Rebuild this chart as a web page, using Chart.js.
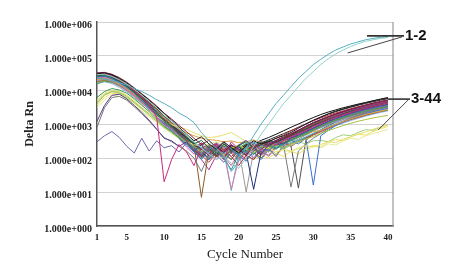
<!DOCTYPE html>
<html><head><meta charset="utf-8">
<script src="https://cdn.jsdelivr.net/npm/chart.js@4"></script>
<style>html,body{margin:0;padding:0;background:#fff;}canvas{display:block;}</style>
</head><body>
<canvas id="c" width="461" height="265"></canvas>
<script>
const cycles = [1,2,3,4,5,6,7,8,9,10,11,12,13,14,15,16,17,18,19,20,21,22,23,24,25,26,27,28,29,30,31,32,33,34,35,36,37,38,39,40];
const xTickValues = [1,5,10,15,20,25,30,35,40];
const yTickValues = [1,10,100,1000,10000,100000,1000000];
const yTickLabels = ['1.000e+000','1.000e+001','1.000e+002','1.000e+003','1.000e+004','1.000e+005','1.000e+006'];

// wells 1-2
const s01 = [2.2e4,2.1e4,1.9e4,1.65e4,1.4e4,1.1e4,9e3,7e3,5.2e3,4e3, 3e3,2.1e3,1.6e3,1.1e3,560,320,200,110,40,80, 200,450,1e3,2e3,4e3,7e3,1.25e4,2.2e4,3.5e4,5.6e4, 8e4,1.12e5,1.5e5,1.85e5,2.25e5,2.6e5,3e5,3.3e5,3.55e5,3.7e5];
const s02 = [2.8e4,2.9e4,2.5e4,2e4,1.5e4,1.05e4,7e3,4.6e3,3e3,1.9e3, 1.2e3,750,480,300,200,130,90,110,70,50, 100,220,500,1e3,2e3,4e3,7e3,1.25e4,2.2e4,3.5e4, 5.6e4,8.3e4,1.15e5,1.5e5,1.9e5,2.3e5,2.7e5,3e5,3.3e5,3.5e5];
// wells 3-44
const s03 = [3e4,3.2e4,2.8e4,2.2e4,1.6e4,1.1e4,7.5e3,5e3,3.2e3,2e3, 1.3e3,800,500,320,420,260,180,300,200,140, 230,320,260,300,380,450,560,750,1e3,1.3e3, 1.6e3,2e3,2.4e3,2.8e3,3.2e3,3.7e3,4.2e3,4.8e3,5.4e3,6e3];
const s04 = [3.2e4,3.3e4,2.9e4,2.3e4,1.7e4,1.15e4,7.8e3,5.2e3,3.4e3,2.1e3, 1.4e3,900,600,380,250,330,210,150,240,180, 120,210,280,230,300,380,480,620,820,1.05e3, 1.3e3,1.6e3,1.95e3,2.3e3,2.7e3,3.1e3,3.6e3,4.1e3,4.6e3,5.1e3];
const s05 = [2.9e4,3e4,2.6e4,2e4,1.45e4,9.5e3,6e3,3.5e3,1.6e3,20, 90,250,150,60,200,120,260,90,300,180, 120,250,170,300,240,330,420,520,650,850, 1.05e3,1.3e3,1.6e3,1.9e3,2.2e3,2.6e3,3e3,3.4e3,3.8e3,4.2e3];
const s06 = [2.6e4,2.8e4,2.4e4,1.8e4,1.3e4,8.5e3,5.5e3,3.5e3,2.2e3,1.3e3, 900,550,380,260,330,200,120,260,170,230, 300,190,250,330,280,360,450,560,700,900, 1.1e3,1.35e3,1.65e3,2e3,2.35e3,2.7e3,3.1e3,3.5e3,3.9e3,4.3e3];
const s07 = [1.2e3,3.5e3,7e3,7.5e3,5.5e3,3.5e3,2.2e3,1.3e3,700,380, 320,220,300,160,250,110,180,300,150,240, 330,200,130,250,320,260,380,480,600,760, 950,1.2e3,1.45e3,1.75e3,2.05e3,2.4e3,2.75e3,3.1e3,3.45e3,3.8e3];
const s08 = [300,450,600,400,220,140,380,160,320,200, 230,150,280,190,120,230,160,260,190,140, 220,300,190,160,260,320,400,480,600,780, 980,1.2e3,1.45e3,1.7e3,2e3,2.3e3,2.6e3,2.9e3,3.2e3,3.5e3];
const s09 = [2.5e4,2.7e4,2.3e4,1.75e4,1.25e4,8e3,5e3,3.2e3,2e3,1.2e3, 800,480,300,200,130,220,150,100,45,130, 200,130,190,260,190,280,340,430,560,740, 940,1.15e3,1.4e3,1.65e3,1.95e3,2.25e3,2.6e3,2.95e3,3.3e3,3.7e3];
const s10 = [6e3,9e3,1.1e4,1e4,8e3,5.5e3,3.6e3,2.3e3,1.4e3,850, 600,400,260,170,240,130,200,95,170,230, 150,220,290,230,180,260,320,400,500,660, 840,1.05e3,1.3e3,1.55e3,1.8e3,2.1e3,2.4e3,2.7e3,3e3,3.3e3];
const s11 = [4e3,7e3,9e3,8.5e3,6.5e3,4.5e3,3e3,2e3,1.3e3,850, 600,420,300,220,160,240,170,120,190,240, 180,140,220,190,250,200,260,300,360,430, 530,640,760,900,1.05e3,1.2e3,1.35e3,1.5e3,1.65e3,1.8e3];
const s12 = [5e3,8e3,9.5e3,9e3,7e3,5e3,3.5e3,2.4e3,1.7e3,1.2e3, 950,800,700,550,450,400,420,480,560,420, 300,220,180,200,150,180,160,200,230,210, 250,300,280,360,420,500,580,700,820,950];
const s13 = [2e4,2.2e4,1.9e4,1.5e4,1.1e4,7.5e3,5e3,3.3e3,2.2e3,1.5e3, 1e3,700,550,450,380,350,330,300,320,280, 300,340,280,220,260,300,360,420,500,600, 640,800,980,1.18e3,1.4e3,1.65e3,1.9e3,2.15e3,2.4e3,2.7e3];
const s14 = [800,3e3,6e3,6.5e3,5e3,3.2e3,2e3,1.2e3,700,400, 300,220,160,100,40,130,200,120,170,100, 150,220,140,190,110,250,14,160,260,380, 520,720,950,1.2e3,1.5e3,1.8e3,2.15e3,2.5e3,2.85e3,3.2e3];
const s15 = [2.4e4,2.6e4,2.2e4,1.65e4,1.15e4,7.5e3,4.8e3,3e3,1.8e3,1e3, 650,380,240,150,90,170,240,140,200,120, 80,160,240,170,280,230,340,260,380,16, 450,650,900,1.15e3,1.4e3,1.7e3,2e3,2.3e3,2.6e3,2.9e3];
const s16 = [2.7e4,2.9e4,2.5e4,1.9e4,1.35e4,9e3,5.8e3,3.7e3,2.3e3,1.4e3, 900,550,340,200,120,200,260,170,110,60, 120,200,250,300,380,480,620,800,1e3,1.25e3, 1.5e3,1.8e3,2.1e3,2.45e3,2.8e3,3.2e3,3.6e3,4e3,4.5e3,5e3];
const s17 = [2.3e4,2.4e4,2e4,1.5e4,1.05e4,7e3,4.5e3,2.8e3,1.7e3,1e3, 700,420,270,160,250,140,90,180,12,90, 110,170,240,180,280,330,420,520,640,780, 940,1.15e3,1.35e3,1.6e3,1.85e3,2.1e3,2.4e3,2.7e3,3e3,3.3e3];
const s18 = [2.8e4,3e4,2.6e4,2e4,1.45e4,9.8e3,6.5e3,4.2e3,2.7e3,1.7e3, 1.1e3,700,420,250,7,170,110,140,210,150, 230,180,130,220,300,380,480,600,760,960, 1.2e3,1.45e3,1.7e3,2e3,2.3e3,2.65e3,3e3,3.35e3,3.7e3,4.1e3];
const s19 = [2.1e4,2.3e4,2e4,1.6e4,1.2e4,8e3,5.5e3,3.7e3,2.5e3,1.6e3, 1.1e3,700,460,300,200,130,220,150,11,130, 200,280,220,160,240,190,270,330,420,540, 670,840,1.03e3,1.23e3,1.45e3,1.7e3,1.95e3,2.2e3,2.45e3,2.7e3];
const s20 = [1.9e4,2.1e4,1.8e4,1.4e4,1e4,6.8e3,4.4e3,2.8e3,1.75e3,1.05e3, 700,450,300,200,130,210,280,190,250,170, 120,210,170,110,200,260,330,420,520,640, 780,960,1.15e3,1.35e3,1.55e3,1.8e3,2.05e3,2.3e3,2.55e3,2.8e3];
const s21 = [4.5e3,7.5e3,9e3,8e3,6e3,4.2e3,2.8e3,1.8e3,1.2e3,780, 550,380,260,190,150,210,150,240,180,140, 190,250,190,150,220,180,240,300,260,320, 330,300,400,480,450,560,680,650,800,950];
const s22 = [3e3,5e3,7e3,6.5e3,5e3,3.5e3,2.4e3,1.6e3,1.1e3,750, 520,380,300,250,220,260,300,240,200,230, 180,150,190,160,130,170,150,190,170,220, 200,260,240,320,380,350,450,520,600,700];
const s23 = [2.9e4,3.1e4,2.7e4,2.1e4,1.5e4,1e4,6.8e3,4.4e3,2.8e3,1.7e3, 1.1e3,680,420,270,180,120,210,150,230,170, 250,200,280,340,420,520,640,800,1e3,1.25e3, 1.6e3,1.95e3,2.3e3,2.7e3,3.1e3,3.55e3,4e3,4.5e3,5e3,5.6e3];
const s24 = [2.4e4,2.6e4,2.3e4,1.75e4,1.25e4,8.2e3,5.3e3,3.4e3,2.1e3,1.25e3, 820,500,300,180,270,170,110,180,240,170, 120,90,170,230,290,350,430,540,680,850, 1.05e3,1.3e3,1.55e3,1.85e3,2.15e3,2.5e3,2.85e3,3.25e3,3.65e3,4.1e3];
const s25 = [2.7e4,2.9e4,2.5e4,1.95e4,1.4e4,9.5e3,6.2e3,4e3,2.5e3,1.5e3, 1e3,620,400,250,150,240,170,110,170,230, 160,230,300,250,330,400,500,650,850,1.1e3, 1.35e3,1.65e3,2e3,2.35e3,2.75e3,3.15e3,3.6e3,4.05e3,4.5e3,5e3];
const s26 = [2.2e4,2.4e4,2.1e4,1.6e4,1.15e4,7.6e3,4.9e3,3.1e3,1.9e3,1.1e3, 720,430,270,170,100,160,210,140,90,170, 230,160,210,280,210,290,360,450,580,740, 930,1.15e3,1.4e3,1.65e3,1.95e3,2.25e3,2.6e3,2.95e3,3.3e3,3.7e3];
const s27 = [2.5e4,2.7e4,2.35e4,1.8e4,1.3e4,8.6e3,5.6e3,3.6e3,2.3e3,1.4e3, 950,600,380,250,160,90,150,230,150,210, 140,12,150,220,230,300,390,520,700,900, 1.12e3,1.38e3,1.65e3,1.95e3,2.3e3,2.65e3,3e3,3.4e3,3.8e3,4.2e3];
const s28 = [2e4,2.2e4,1.9e4,1.45e4,1.05e4,7e3,4.6e3,2.9e3,1.8e3,1.1e3, 750,470,300,190,120,75,140,200,140,90, 150,230,150,120,210,280,220,300,380,480, 600,760,940,1.14e3,1.36e3,1.6e3,1.85e3,2.1e3,2.4e3,2.7e3];
const s29 = [2.3e4,2.5e4,2.15e4,1.6e4,1.15e4,7.5e3,4.8e3,3e3,1.85e3,1.1e3, 740,460,300,180,250,170,230,150,90,190, 10,160,240,190,130,220,290,360,470,610, 780,970,1.18e3,1.4e3,1.65e3,1.9e3,2.2e3,2.5e3,2.8e3,3.1e3];
const s30 = [1.7e4,1.9e4,1.7e4,1.35e4,1e4,7e3,4.8e3,3.2e3,2.1e3,1.35e3, 950,620,400,270,180,120,180,260,180,130, 210,150,100,180,250,190,260,330,400,500, 630,790,960,1.15e3,1.35e3,1.55e3,1.8e3,2.05e3,2.3e3,2.55e3];
const s31 = [2.6e4,2.75e4,2.4e4,1.85e4,1.3e4,8.8e3,5.7e3,3.7e3,2.3e3,1.4e3, 920,560,350,220,130,210,140,90,140,200, 270,200,140,210,280,340,420,540,690,890, 1.1e3,1.35e3,1.6e3,1.9e3,2.2e3,2.55e3,2.9e3,3.3e3,3.7e3,4.1e3];
const s32 = [2.8e4,3e4,2.6e4,2e4,1.45e4,9.6e3,6.2e3,3.9e3,2.4e3,1.4e3, 880,520,300,170,90,45,120,180,110,170, 240,180,120,200,270,340,440,580,750,970, 1.2e3,1.48e3,1.78e3,2.1e3,2.45e3,2.85e3,3.25e3,3.7e3,4.15e3,4.6e3];
const s33 = [2.1e4,2.25e4,1.95e4,1.5e4,1.05e4,7e3,4.5e3,2.8e3,1.7e3,1e3, 680,420,260,150,210,140,200,260,170,120, 180,140,90,170,120,200,270,330,400,500, 630,790,970,1.17e3,1.39e3,1.63e3,1.88e3,2.15e3,2.43e3,2.72e3];
const s34 = [2.5e4,2.65e4,2.3e4,1.75e4,1.25e4,8.3e3,5.4e3,3.4e3,2.1e3,1.25e3, 830,510,320,200,120,180,120,180,240,170, 230,170,240,310,240,330,230,13,330,500, 680,900,1.13e3,1.38e3,1.65e3,1.95e3,2.25e3,2.6e3,2.95e3,3.3e3];
const s35 = [1.5e4,1.8e4,1.7e4,1.4e4,1.05e4,7.2e3,4.8e3,3.1e3,2e3,1.25e3, 880,570,370,240,160,100,160,230,170,240, 180,130,200,270,210,280,340,420,530,670, 840,1.03e3,1.24e3,1.47e3,1.72e3,1.98e3,2.25e3,2.55e3,2.85e3,3.15e3];
const s36 = [2.6e4,2.8e4,2.45e4,1.9e4,1.35e4,9e3,5.8e3,3.7e3,2.3e3,1.35e3, 880,530,320,200,280,190,120,75,150,220, 160,100,180,250,300,370,470,620,820,1.05e3, 1.32e3,1.6e3,1.9e3,2.22e3,2.57e3,2.95e3,3.35e3,3.8e3,4.25e3,4.7e3];
const s37 = [3.5e3,6e3,8e3,7.5e3,5.8e3,4e3,2.7e3,1.8e3,1.2e3,800, 540,370,260,190,150,130,160,200,170,140, 110,90,120,100,140,110,160,130,190,240, 210,290,350,320,420,500,470,600,720,850];
const s38 = [1.8e4,2e4,1.75e4,1.35e4,9.8e3,6.6e3,4.3e3,2.8e3,1.8e3,1.1e3, 800,520,340,230,150,210,270,200,140,200, 250,180,240,300,250,320,380,460,570,720, 890,1.08e3,1.28e3,1.5e3,1.73e3,1.97e3,2.22e3,2.5e3,2.8e3,3.1e3];
const s39 = [2.75e4,2.95e4,2.6e4,2e4,1.45e4,9.7e3,6.3e3,4e3,2.5e3,1.5e3, 980,600,380,240,140,210,150,240,180,120, 200,260,330,400,500,630,800,1e3,1.25e3,1.55e3, 1.9e3,2.25e3,2.6e3,3e3,3.4e3,3.85e3,4.3e3,4.8e3,5.3e3,5.8e3];
const s40 = [2.45e4,2.6e4,2.25e4,1.7e4,1.2e4,7.9e3,5.1e3,3.2e3,2e3,1.2e3, 790,480,300,180,110,170,240,170,210,140, 90,150,210,270,330,420,520,660,860,1.09e3, 1.34e3,1.62e3,1.92e3,2.25e3,2.6e3,2.98e3,3.38e3,3.8e3,4.25e3,4.7e3];
const s41 = [1.6e4,1.75e4,1.55e4,1.2e4,8.8e3,6e3,4e3,2.6e3,1.65e3,1e3, 700,440,290,190,130,90,140,200,140,180, 240,180,120,180,250,200,260,320,400,480, 580,730,890,1.07e3,1.26e3,1.47e3,1.7e3,1.94e3,2.2e3,2.45e3];
const s42 = [2.35e4,2.5e4,2.2e4,1.7e4,1.2e4,8e3,5.2e3,3.3e3,2.05e3,1.25e3, 820,500,310,190,110,170,110,170,240,180, 140,210,280,220,300,360,450,580,750,960, 1.2e3,1.46e3,1.75e3,2.05e3,2.4e3,2.75e3,3.15e3,3.55e3,4e3,4.45e3];
const s43 = [2e4,2.15e4,1.85e4,1.4e4,1e4,6.6e3,4.2e3,2.6e3,1.55e3,900, 600,360,210,130,190,260,170,110,60,140, 190,260,190,150,220,290,360,440,560,710, 890,1.09e3,1.31e3,1.55e3,1.81e3,2.08e3,2.37e3,2.68e3,3e3,3.35e3];
const s44 = [1.8e4,1.95e4,1.7e4,1.3e4,9.5e3,6.4e3,4.2e3,2.7e3,1.7e3,1.05e3, 740,480,320,210,140,210,280,210,150,110, 170,240,180,250,320,260,330,410,520,650, 810,1e3,1.21e3,1.43e3,1.67e3,1.93e3,2.2e3,2.5e3,2.8e3,3.1e3];

const wellSeries = [s01,s02,s03,s04,s05,s06,s07,s08,s09,s10,s11,s12,s13,s14,s15,s16,s17,s18,s19,s20,s21,s22,s23,s24,s25,s26,s27,s28,s29,s30,s31,s32,s33,s34,s35,s36,s37,s38,s39,s40,s41,s42,s43,s44];
const wellColors = ['#55aebf','#8fd3c9','#1a1a1a','#7b1e3e','#c8287f','#1f5f3b','#5a3a8f','#6a6aaa','#2c8a8a','#3c9a4c','#a8c040','#e8e070','#e0a040','#7a7a7a','#3a6ed0','#b83040','#e07aaa','#8b5a2b','#4cb6d6','#9a88d0','#a0d080','#e6ec9a','#2a2a2a','#8e2a4a','#4a2a6a','#2b6e2b','#1e2f78','#d04040','#999999','#808030','#3a9a9a','#b03090','#4a7ad8','#505050','#4caf50','#7a4aa8','#f0e060','#d98030','#111111','#a01830','#80a8e0','#1e6e6e','#d060a0','#b090c8'];

// group labels with leader anchors (in data units: [cycle, Delta Rn])
const groupLabels = ['1-2','3-44'];
const groupAnchors = [[[37.2,3.9e5],[34.6,1.23e5]], [[40,5.4e3],[38.7,670]]];
const groupLabelGap = [12,18];

const notesPlugin = {
  id: 'notes',
  afterDraw(chart) {
    const {ctx, chartArea: a, scales: {x, y}} = chart;
    ctx.save();
    ctx.strokeStyle = '#9a9a9a';
    ctx.lineWidth = 1.2;
    ctx.beginPath();
    ctx.moveTo(a.right, a.top); ctx.lineTo(a.right, a.bottom);
    ctx.stroke();
    ctx.font = 'bold 15px "Liberation Sans", Arial, sans-serif';
    ctx.fillStyle = '#111';
    ctx.textBaseline = 'middle';
    groupLabels.forEach((t, i) => {
      const [p1, p2] = groupAnchors[i];
      const x1 = x.getPixelForValue(p1[0]), y1 = y.getPixelForValue(p1[1]);
      const x2 = x.getPixelForValue(p2[0]), y2 = y.getPixelForValue(p2[1]);
      const lx = a.right + groupLabelGap[i];
      ctx.strokeStyle = '#333';
      ctx.lineWidth = 1.6;
      ctx.beginPath(); ctx.moveTo(x1, y1); ctx.lineTo(lx - 1, y1); ctx.stroke();
      ctx.lineWidth = 1;
      ctx.strokeStyle = '#444';
      ctx.beginPath(); ctx.moveTo(x2, y2); ctx.lineTo(lx - 3, y1 + 1); ctx.stroke();
      ctx.fillText(t, lx, y1);
    });
    ctx.restore();
  }
};

new Chart(document.getElementById('c'), {
  type: 'line',
  data: {
    datasets: wellSeries.map((d, i) => ({
      label: 'Well ' + (i + 1),
      data: d.map((v, j) => ({x: cycles[j], y: v})),
      borderColor: wellColors[i],
      borderWidth: 1,
      pointRadius: 0,
      tension: 0,
      fill: false
    }))
  },
  options: {
    responsive: false,
    animation: false,
    devicePixelRatio: 1,
    layout: {padding: {left: 0, right: 68, top: 22, bottom: 0}},
    plugins: {legend: {display: false}, tooltip: {enabled: false}},
    scales: {
      x: {
        type: 'linear', min: 1, max: 40.68,
        afterBuildTicks: s => { s.ticks = xTickValues.map(v => ({value: v})); },
        afterFit: s => { s.height = 39; },
        ticks: {font: {family: '"Liberation Serif", serif', size: 9, weight: 'bold'}, color: '#222', padding: 6, maxRotation: 0, autoSkip: false, callback: v => String(v)},
        grid: {display: false, drawTicks: false},
        border: {display: true, color: '#555', width: 1.5},
        title: {display: true, text: 'Cycle Number', font: {family: '"Liberation Serif", serif', size: 13}, color: '#222', padding: {top: 0, bottom: 3}}
      },
      y: {
        type: 'logarithmic', min: 1, max: 1e6,
        afterBuildTicks: s => { s.ticks = yTickValues.map(v => ({value: v})); },
        afterFit: s => { s.width = 97; },
        ticks: {font: {family: '"Liberation Serif", serif', size: 10, weight: 'bold'}, color: '#222', padding: 5, labelOffset: 3, autoSkip: false, callback: (v, i) => yTickLabels[i]},
        grid: {color: '#d2d2d2', lineWidth: 1, drawTicks: false},
        border: {display: true, color: '#555', width: 1.5},
        title: {display: true, text: 'Delta Rn', font: {family: '"Liberation Serif", serif', size: 12, weight: 'bold'}, color: '#222', padding: {top: 23, bottom: 0}}
      }
    }
  },
  plugins: [notesPlugin]
});
</script>
</body></html>
